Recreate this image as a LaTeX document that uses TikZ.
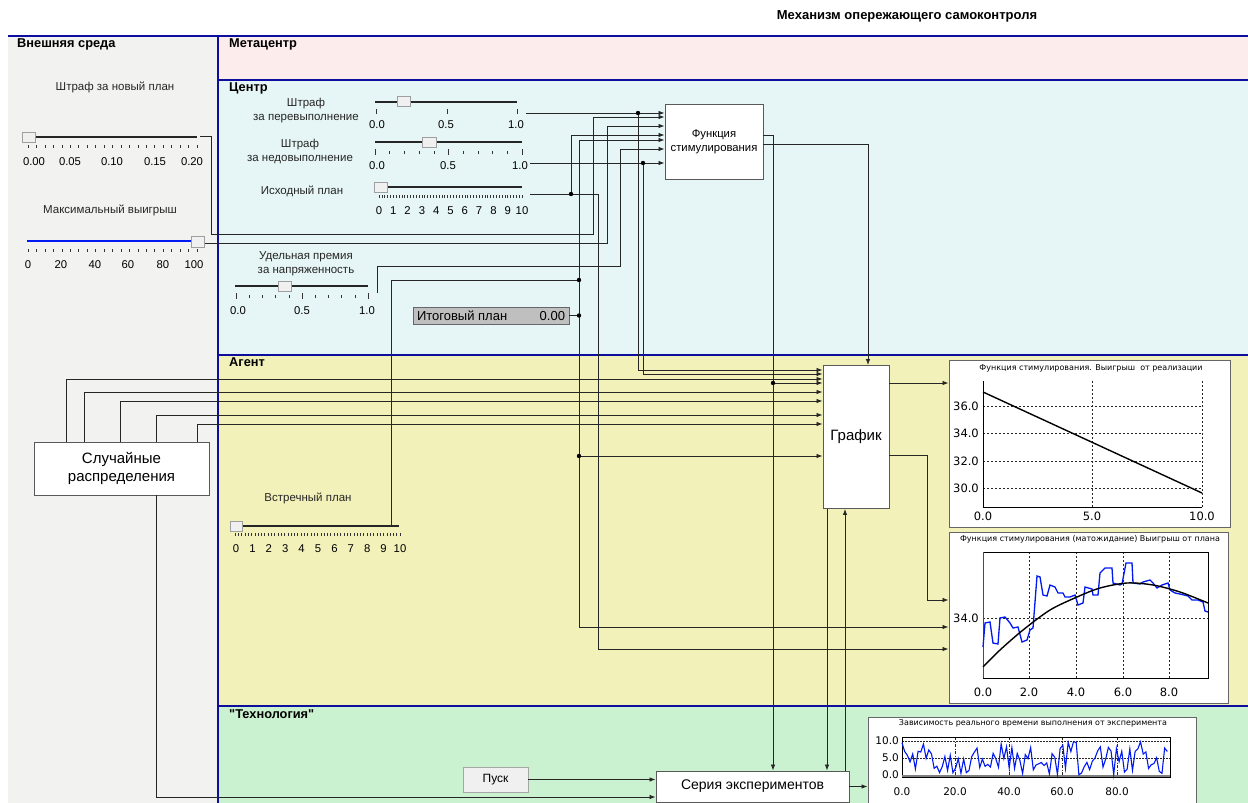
\documentclass[tikz,border=0pt]{standalone}
\usepackage{fontspec}
\setmainfont{Liberation Sans}[Ligatures=TeXOff]
\newfontfamily\plotfont{DejaVu Sans}
\usetikzlibrary{arrows.meta}
\definecolor{FrameBlue}{rgb}{0.05, 0.05, 0.62}
\definecolor{OuterGray}{rgb}{0.949, 0.949, 0.941}
\definecolor{MetaPink}{rgb}{0.992, 0.925, 0.925}
\definecolor{CenterCyan}{rgb}{0.902, 0.961, 0.961}
\definecolor{AgentYellow}{rgb}{0.949, 0.945, 0.725}
\definecolor{TechGreen}{rgb}{0.792, 0.949, 0.816}
\definecolor{PlotBlue}{rgb}{0.0, 0.1, 0.95}
\definecolor{WireGray}{rgb}{0.15, 0.15, 0.15}

\begin{document}
\begin{tikzpicture}[x=1pt, y=-1pt,
    font=\fontsize{11.5}{14}\selectfont,
    bandtitle/.style={anchor=west, inner sep=0pt, font=\fontsize{12.8}{14}\selectfont\bfseries},
    caption/.style={align=center, inner sep=0pt, text=black!85},
    num/.style={inner sep=0pt, font=\fontsize{11.3}{13}\selectfont},
    track/.style={line width=1.6pt, black!85},
    knob/.style={draw=gray!75, fill=gray!12, line width=0.6pt},
    tickmark/.style={black!80, line width=0.6pt},
    block/.style={draw=black!65, line width=0.9pt, fill=white, align=center, inner sep=0pt},
    wire/.style={WireGray, line width=0.85pt},
    feed/.style={wire, -{Latex[length=6pt, width=4.5pt]}},
    chartbox/.style={draw=black!60, line width=1pt, fill=white, inner sep=0pt},
    charttitle/.style={inner sep=0pt, font=\plotfont\fontsize{8}{9}\selectfont},
    axisnum/.style={inner sep=0pt, font=\plotfont\fontsize{11.5}{13}\selectfont},
    gridline/.style={black!85, line width=0.5pt, dash pattern=on 2pt off 2pt},
    bandline/.style={FrameBlue, line width=1.5pt},
]
\useasboundingbox (0,0) rectangle (1248,803);

% поля
\fill[OuterGray] (8,36) rectangle (218,803);
\fill[MetaPink] (218,36) rectangle (1248,80);
\fill[CenterCyan] (218,80) rectangle (1248,355);
\fill[AgentYellow] (218,355) rectangle (1248,706);
\fill[TechGreen] (218,706) rectangle (1248,803);
\draw[bandline] (8,36) -- (1248,36);
\draw[bandline] (218,36) -- (218,803);
\foreach \yy in {80,355,706} \draw[bandline] (218,\yy) -- (1248,\yy);

% заголовки
\node[font=\fontsize{13}{15}\selectfont\bfseries] (title) at (907,16) {Механизм опережающего самоконтроля};
\node[bandtitle] (outerTitle) at (17,44) {Внешняя среда};
\node[bandtitle] (metaTitle) at (229,44) {Метацентр};
\node[bandtitle] (centerTitle) at (229,88) {Центр};
\node[bandtitle] (agentTitle) at (229,362) {Агент};
\node[bandtitle] (techTitle) at (229,714) {"Технология"};

% штраф за новый план
\node[caption] (penNewLbl) at (115,87) {Штраф за новый план};
\draw[track] (28,137) -- (197,137);
\foreach \i in {0,...,20} \draw[tickmark] ({28+8.45*\i},145) -- ++(0,3);
\draw[knob] (22,132) rectangle (35,142);
\foreach \v/\p [count=\k] in {0.00/34, 0.05/70, 0.10/112, 0.15/155, 0.20/192}
    \node[num] (penNewNum\k) at (\p,162) {\v};

% максимальный выигрыш
\node[caption] (maxWinLbl) at (110,210) {Максимальный выигрыш};
\draw[line width=2.2pt, PlotBlue] (27,241) -- (192,241);
\foreach \i in {0,...,20} \draw[tickmark] ({28+8.45*\i},249) -- ++(0,3);
\draw[knob] (191,236) rectangle (204,247);
\foreach \v/\p in {0/28, 20/61, 40/95, 60/128, 80/163, 100/194}
    \node[num] (maxWinNum\v) at (\p,265) {\v};

% штраф за перевыполнение
\node[caption] (overLbl) at (306,111) {Штраф\\за перевыполнение};
\draw[track] (375,102) -- (517,102);
\foreach \p in {376,447,517} \draw[tickmark] (\p,109) -- ++(0,5);
\draw[knob] (397,96) rectangle (410,106);
\foreach \v/\p [count=\k] in {0.0/377, 0.5/446, 1.0/516} \node[num] (overNum\k) at (\p,125) {\v};

% штраф за недовыполнение
\node[caption] (underLbl) at (300,151) {Штраф\\за недовыполнение};
\draw[track] (375,142) -- (522,142);
\foreach \i in {0,...,10} \draw[tickmark] ({375+14.7*\i},151) -- ++(0,3);
\foreach \i in {0,5,10} \draw[tickmark] ({375+14.7*\i},149) -- ++(0,6);
\draw[knob] (422,137) rectangle (436,147);
\foreach \v/\p [count=\k] in {0.0/377, 0.5/448, 1.0/520} \node[num] (underNum\k) at (\p,166) {\v};

% исходный план
\node[caption] (initLbl) at (302,191) {Исходный план};
\draw[track] (375,187) -- (522,187);
\foreach \i in {0,...,50} \draw[tickmark] ({379+2.86*\i},195) -- ++(0,3);
\draw[knob] (374,182) rectangle (387,192);
\foreach \i in {0,...,10} \node[num] (initNum\i) at ({379+14.3*\i},211) {\i};

% удельная премия
\node[caption] (bonusLbl) at (306,264) {Удельная премия\\за напряженность};
\draw[track] (235,286) -- (368,286);
\foreach \i in {0,...,10} \draw[tickmark] ({236+13.2*\i},295) -- ++(0,3);
\foreach \i in {0,5,10} \draw[tickmark] ({236+13.2*\i},293) -- ++(0,6);
\draw[knob] (278,281) rectangle (291,291);
\foreach \v/\p [count=\k] in {0.0/238, 0.5/302, 1.0/367} \node[num] (bonusNum\k) at (\p,311) {\v};

% встречный план
\node[caption] (counterLbl) at (308,498) {Встречный план};
\draw[track] (235,526) -- (399,526);
\foreach \i in {0,...,50} \draw[tickmark] ({235+3.3*\i},533) -- ++(0,3);
\draw[knob] (230,521) rectangle (242,531);
\foreach \i in {0,...,10} \node[num] (counterNum\i) at ({236+16.4*\i},549) {\i};

% блоки
\node[block, minimum width=98, minimum height=75, font=\fontsize{11.3}{14}\selectfont] (fs) at (714,141.5) {Функция\\стимулирования};
\node[block, minimum width=66, minimum height=143, font=\fontsize{15}{17}\selectfont] (graph) at (856,437) {График};
\node[block, minimum width=175, minimum height=53, font=\fontsize{15}{18}\selectfont] (random) at (121.5,468.5) {Случайные\\распределения};
\node[block, draw=gray!70, fill=gray!12, minimum width=65, minimum height=25, font=\fontsize{12}{14}\selectfont] (start) at (495.5,779.5) {Пуск};
\node[block, minimum width=193, minimum height=31, font=\fontsize{14}{16}\selectfont] (series) at (752.5,786.5) {Серия экспериментов};
\node[draw=black!60, fill=gray!50, minimum width=156, minimum height=17, inner sep=0pt,
      font=\fontsize{13}{15}\selectfont] (total) at (491,315.5) {\makebox[148pt]{Итоговый план\hfill0.00}};

% графики
\node[chartbox, minimum width=281, minimum height=167] (chA) at (1089.5,443.5) {};
\node[chartbox, minimum width=279, minimum height=171] (chB) at (1088.5,617.5) {};
\node[chartbox, minimum width=328, minimum height=92] (chC) at (1032,763) {};

% выигрыш от реализации
\node[charttitle] (chATitle) at (1091,368) {Функция стимулирования. Выигрыш~ от реализации};
\foreach \yy in {406,433,461,488} \draw[gridline] (983,\yy) -- (1202,\yy);
\draw[gridline] (1092,381) -- (1092,507);
\draw[gridline] (1202,381) -- (1202,507);
\draw[line width=0.8pt] (983,381) -- (983,507) -- (1202,507);
\draw[line width=1.4pt] (983,392) -- (1202,493);
\foreach \v/\yy [count=\k] in {36.0/406, 34.0/433, 32.0/461, 30.0/488}
    \node[axisnum, anchor=east] (chAy\k) at (979,\yy) {\v};
\foreach \v/\p [count=\k] in {0.0/983, 5.0/1092, 10.0/1202} \node[axisnum] (chAx\k) at (\p,516) {\v};

% выигрыш от плана
\node[charttitle] (chBTitle) at (1090,539) {Функция стимулирования (матожидание) Выигрыш от плана};
\draw[gridline] (983,618) -- (1208,618);
\foreach \p in {1029,1076,1123,1169} \draw[gridline] (\p,552) -- (\p,678);
\draw[line width=0.8pt] (983,552) rectangle (1208,678);
\draw[green!50!black, line width=0.8pt] (983,552) -- (983,678);
\draw[PlotBlue, line width=1.3pt] plot coordinates {(983,647) (985,623) (990,622) (993,643) (998,644)
    (1000,618) (1005,617) (1010,623) (1013,628) (1018,627) (1022,642) (1027,640) (1030,630)
    (1033,628) (1037,576) (1040,577) (1043,595) (1047,596) (1050,585) (1055,587) (1058,593)
    (1063,593) (1065,597) (1070,597) (1075,595) (1078,605) (1083,603) (1085,587) (1092,589)
    (1093,595) (1098,595) (1100,573) (1105,568) (1112,568) (1113,583) (1120,585) (1122,584)
    (1126,563) (1132,563) (1133,583) (1140,584) (1143,582) (1150,580) (1153,583) (1157,588)
    (1162,585) (1168,583) (1170,590) (1175,593) (1180,594) (1188,596) (1192,600) (1198,600)
    (1203,602) (1205,611) (1208,612)};
\draw[line width=1.4pt] plot[smooth] coordinates {(983,667) (1000,650) (1023,630) (1050,610)
    (1077,597) (1100,588) (1127,583) (1153,585) (1180,592) (1208,603)};
\node[axisnum, anchor=east] (chBy) at (979,618) {34.0};
\foreach \v/\p [count=\k] in {0.0/983, 2.0/1029, 4.0/1076, 6.0/1123, 8.0/1169}
    \node[axisnum] (chBx\k) at (\p,692) {\v};

% время выполнения
\node[charttitle] (chCTitle) at (1033,723) {Зависимость реального времени выполнения от эксперимента};
\foreach \yy in {741,758} \draw[gridline, dash pattern=on 1.5pt off 1.5pt] (902,\yy) -- (1170,\yy);
\foreach \p in {955,1009,1062,1117}
    \draw[black!85, line width=0.5pt, dash pattern=on 3pt off 1.5pt on 1pt off 1.5pt] (\p,737) -- (\p,777);
\draw[line width=0.7pt] (902,737) rectangle (1170,777);
\draw[gray, line width=1.6pt] (902,776) -- (1170,776);
\pgfmathsetseed{11}
\draw[PlotBlue, line width=1.1pt] plot[samples=100, domain=0:99, variable=\t] ({902+2.68*\t}, {775-34*rnd});
\foreach \v/\yy [count=\k] in {10.0/741, 5.0/758, 0.0/775}
    \node[axisnum, anchor=east, font=\plotfont\fontsize{10.5}{12}\selectfont] (chCy\k) at (899,\yy) {\v};
\foreach \v/\p [count=\k] in {0.0/902, 20.0/955, 40.0/1009, 60.0/1062, 80.0/1117}
    \node[axisnum, font=\plotfont\fontsize{10.5}{12}\selectfont] (chCx\k) at (\p,792) {\v};

% выходы ползунков и узлы
\coordinate (penNewOut) at (200,136);
\coordinate (maxWinOut) at (205,243);
\coordinate (overOut) at (526,113);
\coordinate (underOut) at (530,163);
\coordinate (initOut) at (530,194);
\coordinate (bonusOut) at (377,293);
\coordinate (counterOut) at (391,526);
\coordinate (jOver) at (638,113);
\coordinate (jUnder) at (643,163);
\coordinate (jInit) at (571,194);
\coordinate (jCounter) at (579,280);
\coordinate (jTotal) at (579,315.5);
\coordinate (jAgent) at (579,456);
\coordinate (jFunc) at (773,383);

% связи центра
\draw[feed] (overOut) -- (overOut -| fs.west);
\draw[feed] (underOut) -- (underOut -| fs.west);
\draw[feed] (penNewOut) -| (211,234) -| (593,117) -- (fs.west |- 0,117);
\draw[feed] (maxWinOut) -| (607,126) -- (fs.west |- 0,126);
\draw[feed] (jInit) |- (fs.west |- 0,135);
\draw[feed] (jCounter) |- (fs.west |- 0,140);
\draw[feed] (bonusOut) |- (620,266) |- (fs.west |- 0,149);
\draw[feed] (initOut) -| (598,649) -- (chB.west |- 0,649);
\draw[wire] (counterOut) |- (jCounter);
\draw[wire, line width=1.4pt] (total.east) -- (jTotal);
\draw[feed] (jCounter) |- (chB.west |- 0,627);

% связи агента
\draw[feed] (jOver) |- (graph.west |- 0,370);
\draw[feed] (jUnder) |- (graph.west |- 0,374);
\draw[feed] (fs.east |- 0,135) -| (jFunc |- series.north);
\draw[feed] (jFunc) -- (jFunc -| graph.west);
\draw[feed] (fs.east |- 0,144) -| ([xshift=12pt]graph.north);
\draw[feed] (jAgent) -- (jAgent -| graph.west);
\foreach \xx/\yy in {66/379, 84/392, 120/401, 156/415, 197/424}
    \draw[feed] (random.north -| \xx,0) |- (graph.west |- 0,\yy);
\draw[feed] (graph.east |- 0,383) -- (chA.west |- 0,383);
\draw[feed] (graph.east |- 0,455) -| (927,600) -- (chB.west |- 0,600);

% связи технологии
\draw[feed] (graph.south -| 827,0) -- (series.north -| 827,0);
\draw[feed] (series.north -| 845,0) -- (graph.south -| 845,0);
\draw[feed] (random.south -| 156,0) |- (series.west |- 0,797);
\draw[feed] (start) -- (series.west |- start);
\draw[feed] (series.east) -- (series.east -| chC.west);

\foreach \j in {jOver, jUnder, jInit, jCounter, jTotal, jAgent, jFunc} \fill (\j) circle (2.2pt);

\end{tikzpicture}
\end{document}
